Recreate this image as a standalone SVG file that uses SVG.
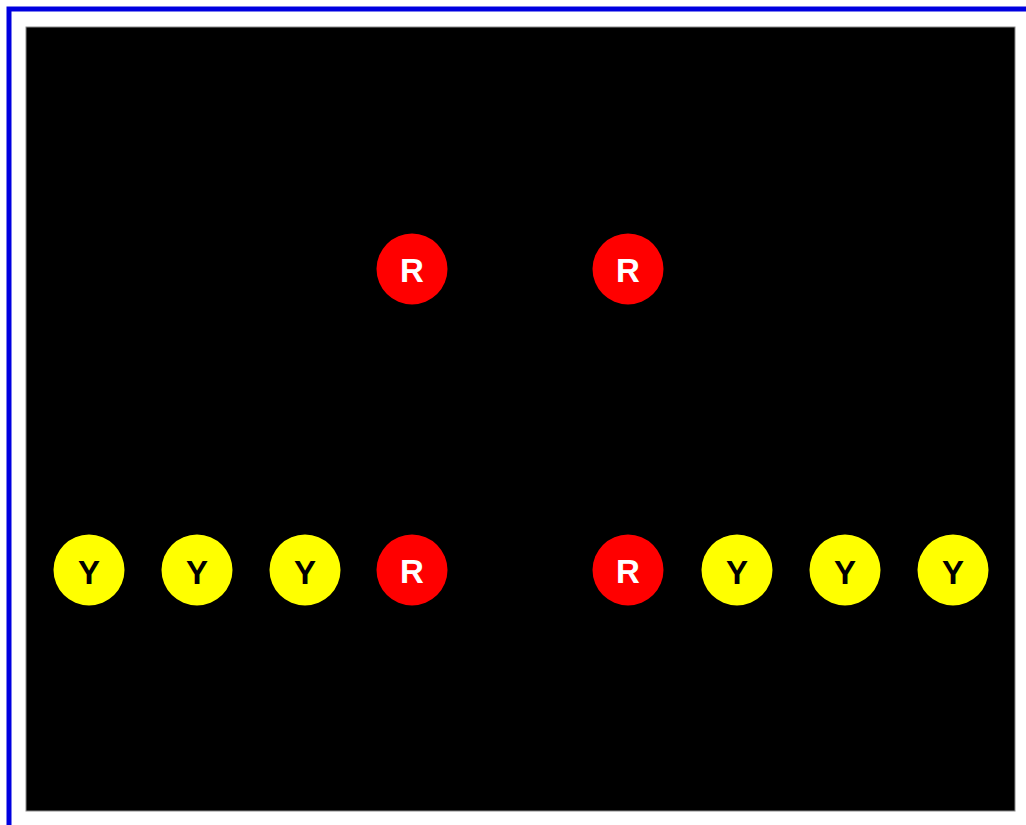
<svg xmlns="http://www.w3.org/2000/svg" width="1026" height="825" viewBox="0 0 1026 825">
<style>
.r{fill:#ff0000}
.y{fill:#ffff00}
.t{font-family:"Liberation Sans",Arial,sans-serif;font-weight:bold;font-size:33px;text-anchor:middle;dominant-baseline:central}
.tr{fill:#ffffff}
.ty{fill:#000000}
</style>
<rect x="0" y="0" width="1026" height="825" fill="#ffffff"/>
<rect id="frame" x="9" y="9" width="1040" height="840" fill="none" stroke="#0000e0" stroke-width="5"/>
<rect id="board" x="26" y="27" width="989" height="784" fill="#000000" stroke="#8a8a8a" stroke-width="1"/>
<g id="connectors"></g>
<g id="r1"><circle class="r" cx="412" cy="269" r="35.5"/><text class="t tr" x="412" y="270">R</text></g>
<g id="r2"><circle class="r" cx="628" cy="269" r="35.5"/><text class="t tr" x="628" y="270">R</text></g>
<g id="y1"><circle class="y" cx="89" cy="570" r="35.5"/><text class="t ty" x="89" y="572">Y</text></g>
<g id="y2"><circle class="y" cx="197" cy="570" r="35.5"/><text class="t ty" x="197" y="572">Y</text></g>
<g id="y3"><circle class="y" cx="305" cy="570" r="35.5"/><text class="t ty" x="305" y="572">Y</text></g>
<g id="r3"><circle class="r" cx="412" cy="570" r="35.5"/><text class="t tr" x="412" y="571">R</text></g>
<g id="r4"><circle class="r" cx="628" cy="570" r="35.5"/><text class="t tr" x="628" y="571">R</text></g>
<g id="y4"><circle class="y" cx="737" cy="570" r="35.5"/><text class="t ty" x="737" y="572">Y</text></g>
<g id="y5"><circle class="y" cx="845" cy="570" r="35.5"/><text class="t ty" x="845" y="572">Y</text></g>
<g id="y6"><circle class="y" cx="953" cy="570" r="35.5"/><text class="t ty" x="953" y="572">Y</text></g>
</svg>
